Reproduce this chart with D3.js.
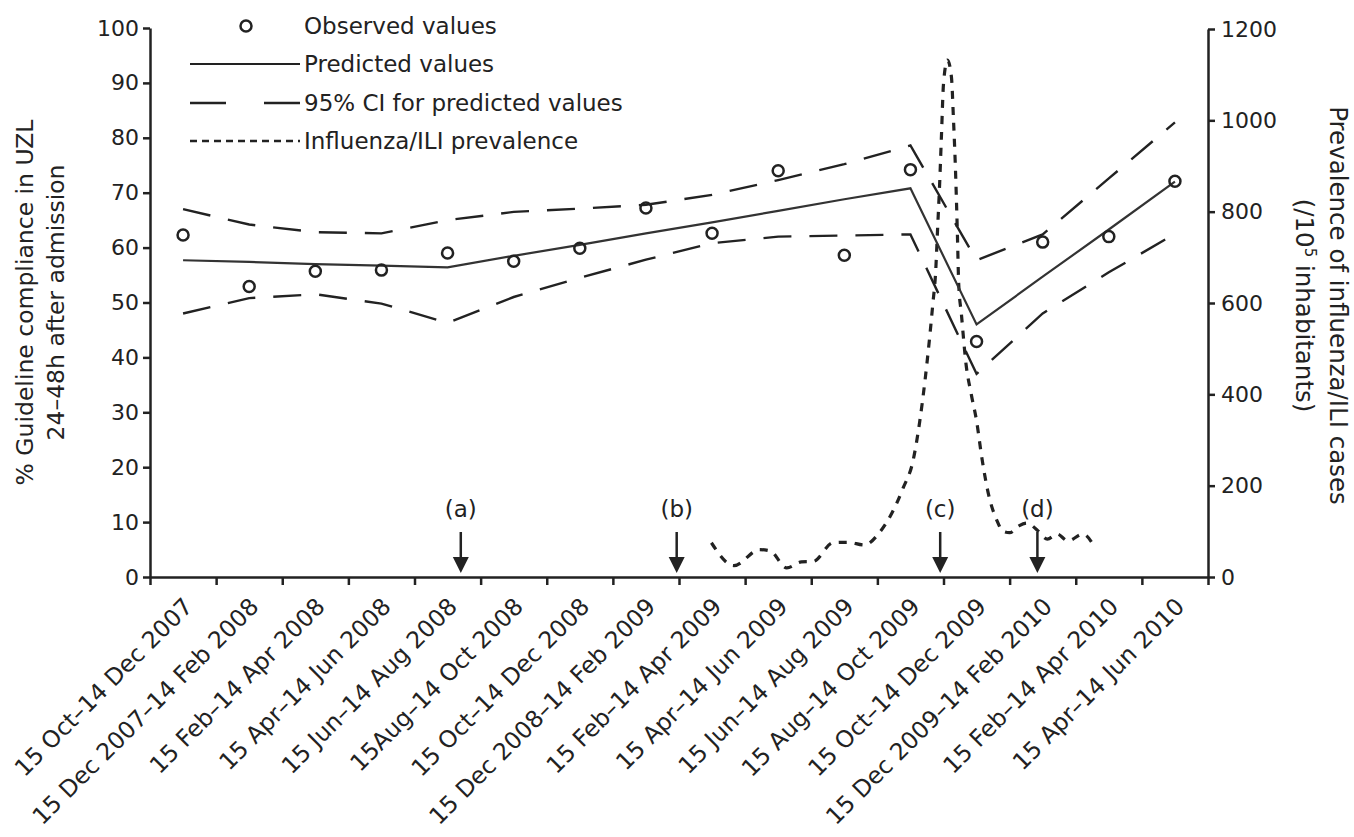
<!DOCTYPE html>
<html>
<head>
<meta charset="utf-8">
<script src="https://cdn.jsdelivr.net/npm/d3@7"></script>
<style>
  body { margin: 0; background: #fff; }
</style>
</head>
<body>
<svg id="root"></svg>
<script>
// two-month periods on the x axis
const categories = [
  "15 Oct–14 Dec 2007",
  "15 Dec 2007–14 Feb 2008",
  "15 Feb–14 Apr 2008",
  "15 Apr–14 Jun 2008",
  "15 Jun–14 Aug 2008",
  "15Aug–14 Oct 2008",
  "15 Oct–14 Dec 2008",
  "15 Dec 2008–14 Feb 2009",
  "15 Feb–14 Apr 2009",
  "15 Apr–14 Jun 2009",
  "15 Jun–14 Aug 2009",
  "15 Aug–14 Oct 2009",
  "15 Oct–14 Dec 2009",
  "15 Dec 2009–14 Feb 2010",
  "15 Feb–14 Apr 2010",
  "15 Apr–14 Jun 2010",
];

// % guideline compliance (left axis)
const observed = [62.3, 52.9, 55.7, 55.9, 59.0, 57.5, 59.9, 67.2, 62.6, 74.0, 58.6, 74.2, 42.9, 61.0, 62.0, 72.1];
const predicted = [57.7, 57.4, 57.0, 56.7, 56.4, 58.5, 60.5, 62.6, 64.6, 66.7, 68.8, 70.8, 46.0, 54.7, 63.3, 72.0];
const ciUpper = [67.0, 64.2, 62.8, 62.6, 65.0, 66.5, 67.1, 67.8, 69.6, 72.3, 75.2, 78.6, 57.7, 62.4, 72.6, 82.8];
const ciLower = [48.0, 50.8, 51.5, 49.8, 46.3, 51.0, 54.5, 57.8, 60.8, 62.0, 62.2, 62.4, 37.0, 48.0, 55.5, 62.5];

// influenza/ILI prevalence per 10^5 (right axis), position in periods since 15 Oct 2007
const fluPeriod = [8.49, 8.83, 9.22, 9.38, 9.63, 9.85, 10.03, 10.33, 10.56, 10.80, 11.04, 11.22, 11.39, 11.54,
  11.64, 11.72, 11.79, 11.84, 11.88, 11.91, 11.94, 11.97, 12.00, 12.06, 12.12, 12.15, 12.18, 12.21, 12.23,
  12.27, 12.34, 12.42, 12.50, 12.58, 12.67, 12.81, 12.90, 13.00, 13.14, 13.26, 13.43, 13.57, 13.72, 13.88,
  14.11, 14.26];
const fluPrevalence = [75, 25, 60, 57, 20, 33, 34, 75, 76, 70, 99, 140, 195, 255,
  340, 430, 524, 600, 665, 760, 855, 970, 1080, 1132, 1095, 1005, 897, 752, 642,
  577, 467, 400, 342, 261, 188, 123, 100, 97, 112, 118, 101, 83, 94, 79,
  94, 72];

// interventions marked with arrows
const eventLabels = ["(a)", "(b)", "(c)", "(d)"];
const eventPeriod = [4.70, 7.965, 11.95, 13.42];

const leftTicks = d3.range(0, 101, 10);
const rightTicks = d3.range(0, 1201, 200);

const draw = () => {
  const width = 1354,
    height = 837;
  const x0 = 150,
    x1 = 1208,
    yBottom = 577,
    yTop = 28;
  const ink = "#222";
  const font = "DejaVu Sans";

  const svg = d3
    .select("svg#root")
    .attr("width", width)
    .attr("height", height)
    .attr("viewBox", [0, 0, width, height])
    .style("font-family", font);

  const xBand = d3.scaleBand().domain(categories).range([x0, x1]).padding(0);
  const xPeriod = d3.scaleLinear().domain([0, categories.length]).range([x0, x1]);
  const yLeft = d3.scaleLinear().domain([0, 100]).range([yBottom, yTop]);
  const yRight = d3.scaleLinear().domain([0, 1200]).range([yBottom, yTop + 1]);
  const cx = (i) => xBand(categories[i]) + xBand.bandwidth() / 2;

  const styleAxis = (g) => {
    g.selectAll("path, line").attr("stroke", ink).attr("stroke-width", 2.5);
    g.selectAll("text").attr("fill", ink).attr("font-family", font).attr("font-size", 22);
  };

  // left axis
  svg
    .append("g")
    .attr("transform", `translate(${x0},0)`)
    .call(d3.axisLeft(yLeft).tickValues(leftTicks).tickSize(7).tickSizeOuter(0).tickPadding(4))
    .call(styleAxis);

  // right axis
  svg
    .append("g")
    .attr("transform", `translate(${x1},0)`)
    .call(
      d3.axisRight(yRight).tickValues(rightTicks).tickFormat(d3.format("d")).tickSize(7).tickSizeOuter(0).tickPadding(6)
    )
    .call(styleAxis);

  // bottom axis: ticks on period boundaries
  svg
    .append("g")
    .attr("transform", `translate(0,${yBottom})`)
    .call(
      d3.axisBottom(xPeriod).tickValues(d3.range(categories.length + 1)).tickFormat("").tickSize(8).tickSizeOuter(0)
    )
    .call(styleAxis);

  // period labels, rotated
  const xLab = svg
    .append("g")
    .attr("transform", `translate(0,${yBottom})`)
    .call(d3.axisBottom(xBand).tickSize(0))
    .call(styleAxis);
  xLab.select(".domain").remove();
  xLab
    .selectAll("text")
    .attr("font-size", 23.5)
    .attr("text-anchor", "end")
    .attr("dy", null)
    .attr("y", 0)
    .attr("transform", "translate(11,31) rotate(-45)");

  // axis titles
  const lt = svg
    .append("g")
    .attr("transform", `translate(33,${(yTop + yBottom) / 2})rotate(-90)`)
    .attr("text-anchor", "middle")
    .attr("font-size", 23.5)
    .attr("fill", ink);
  lt.append("text").attr("y", 0).text("% Guideline compliance in UZL");
  lt.append("text").attr("y", 31).text("24–48h after admission");

  const rt = svg
    .append("g")
    .attr("transform", `translate(1330,${(yTop + yBottom) / 2 + 3})rotate(90)`)
    .attr("text-anchor", "middle")
    .attr("font-size", 24.5)
    .attr("fill", ink);
  rt.append("text").attr("y", 0).text("Prevalence of influenza/ILI cases");
  const rt2 = rt.append("text").attr("y", 34);
  rt2.append("tspan").text("(/10");
  rt2.append("tspan").attr("font-size", 15).attr("baseline-shift", "super").text("5");
  rt2.append("tspan").text(" inhabitants)");

  // influenza curve
  const flu = fluPeriod.map((p, i) => [p, fluPrevalence[i]]);
  svg
    .append("path")
    .datum(flu)
    .attr("fill", "none")
    .attr("stroke", ink)
    .attr("stroke-width", 3.2)
    .attr("stroke-dasharray", "8,8")
    .attr(
      "d",
      d3
        .line()
        .x((d) => xPeriod(d[0]))
        .y((d) => yRight(d[1]))
        .curve(d3.curveMonotoneX)
    );

  // predicted + CI
  const line = d3
    .line()
    .x((d, i) => cx(i))
    .y((d) => yLeft(d));

  svg
    .append("path")
    .datum(predicted)
    .attr("fill", "none")
    .attr("stroke", "#333")
    .attr("stroke-width", 2.2)
    .attr("d", line);

  [ciUpper, ciLower].forEach((ci) => {
    svg
      .append("path")
      .datum(ci)
      .attr("fill", "none")
      .attr("stroke", ink)
      .attr("stroke-width", 2.4)
      .attr("stroke-dasharray", "28,18")
      .attr("d", line);
  });

  // observed
  svg
    .append("g")
    .selectAll("circle")
    .data(observed)
    .join("circle")
    .attr("cx", (d, i) => cx(i))
    .attr("cy", (d) => yLeft(d))
    .attr("r", 5.5)
    .attr("fill", "none")
    .attr("stroke", ink)
    .attr("stroke-width", 2.5);

  // arrows
  const ev = svg
    .append("g")
    .selectAll("g")
    .data(eventLabels)
    .join("g")
    .attr("transform", (d, i) => `translate(${xPeriod(eventPeriod[i])},0)`);
  ev.append("line")
    .attr("y1", 532)
    .attr("y2", 560)
    .attr("stroke", ink)
    .attr("stroke-width", 2.5);
  ev.append("path").attr("d", "M-8,557L8,557L0,573Z").attr("fill", ink);
  ev.append("text")
    .attr("y", 517)
    .attr("text-anchor", "middle")
    .attr("font-size", 23)
    .attr("fill", ink)
    .text((d) => d);

  // legend
  const legend = svg.append("g").attr("transform", "translate(190,0)");
  const rows = [26, 64, 103, 141];
  const names = ["Observed values", "Predicted values", "95% CI for predicted values", "Influenza/ILI prevalence"];
  legend
    .selectAll("text")
    .data(names)
    .join("text")
    .attr("x", 114)
    .attr("y", (d, i) => rows[i])
    .attr("dy", "0.35em")
    .attr("font-size", 23)
    .attr("fill", ink)
    .text((d) => d);
  legend
    .append("circle")
    .attr("cx", 56)
    .attr("cy", rows[0])
    .attr("r", 5.5)
    .attr("fill", "none")
    .attr("stroke", ink)
    .attr("stroke-width", 2.5);
  const sw = [
    { y: rows[1], dash: null, w: 2.2 },
    { y: rows[2], dash: "36,38", w: 2.4 },
    { y: rows[3], dash: "7,5", w: 2.4 },
  ];
  legend
    .selectAll("line")
    .data(sw)
    .join("line")
    .attr("x1", 0)
    .attr("x2", 110)
    .attr("y1", (d) => d.y)
    .attr("y2", (d) => d.y)
    .attr("stroke", ink)
    .attr("stroke-width", (d) => d.w)
    .attr("stroke-dasharray", (d) => d.dash);

  return svg.node();
};

draw();
</script>
</body>
</html>
